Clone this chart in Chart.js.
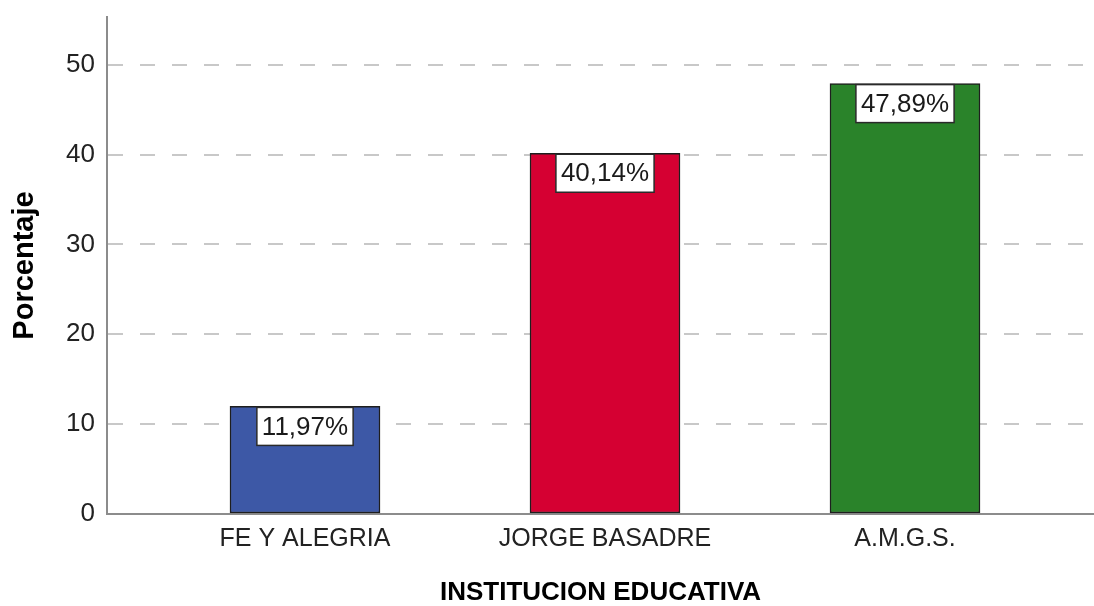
<!DOCTYPE html>
<html>
<head>
<meta charset="utf-8">
<script src="https://cdn.jsdelivr.net/npm/chart.js@4"></script>
<style>
  html, body { margin: 0; padding: 0; background: #fff; }
  #chartBox { width: 1094px; height: 606px; }
</style>
</head>
<body>
<div id="chartBox"><canvas id="barChart" width="1094" height="606"></canvas></div>
<script>
// Data
const institutions = ["FE Y ALEGRIA", "JORGE BASADRE", "A.M.G.S."];
const percentages = [11.97, 40.14, 47.89];
const barColors = ["#3d58a6", "#d50032", "#2a832a"];
const yTicks = [0, 10, 20, 30, 40, 50];

const ctx = document.getElementById("barChart").getContext("2d");
const FONT = "'Liberation Sans', Arial, sans-serif";

// Value boxes drawn at the top of each bar
const valueBoxes = {
  id: "valueBoxes",
  afterDatasetsDraw(chart) {
    const c = chart.ctx;
    const meta = chart.getDatasetMeta(0);
    meta.data.forEach((bar, i) => {
      const text = percentages[i].toFixed(2).replace(".", ",") + "%";
      c.save();
      c.font = "26px " + FONT;
      const w = c.measureText(text).width + 10;
      const h = 38;
      const x = bar.x - w / 2;
      const y = bar.y + 1;
      c.fillStyle = "#ffffff";
      c.fillRect(x, y, w, h);
      c.strokeStyle = "#2a2a2a";
      c.lineWidth = 1.5;
      c.strokeRect(x, y, w, h);
      c.fillStyle = "#1a1a1a";
      c.textAlign = "center";
      c.textBaseline = "middle";
      c.fillText(text, bar.x, y + h / 2 + 1);
      c.restore();
    });
  }
};

new Chart(ctx, {
  type: "bar",
  data: {
    datasets: [{
      data: percentages.map((v, i) => ({ x: i + 1, y: v })),
      backgroundColor: barColors,
      borderColor: "#1e1e1e",
      borderWidth: 1.5,
      borderSkipped: false,
      barThickness: 150
    }]
  },
  options: {
    responsive: false,
    animation: false,
    layout: { padding: { top: 17, right: 0, left: 0, bottom: 0 } },
    plugins: { legend: { display: false }, tooltip: { enabled: false } },
    scales: {
      x: {
        type: "linear",
        offset: false,
        min: 0.34,
        max: 3.63,
        afterFit(scale) {
          scale.height = 92;
          scale.paddingLeft = 0;
          scale.paddingRight = 0;
        },
        afterBuildTicks(scale) {
          scale.ticks = institutions.map((_, i) => ({ value: i + 1 }));
        },
        ticks: {
          callback: (v) => institutions[v - 1] || "",
          color: "#222",
          font: { family: FONT, size: 25 },
          padding: 10,
          maxRotation: 0,
          autoSkip: false
        },
        grid: { display: false, drawTicks: false },
        border: { color: "#8c8c8c", width: 2 },
        title: {
          display: true,
          text: "INSTITUCION EDUCATIVA",
          color: "#000",
          font: { family: FONT, size: 26, weight: "bold", lineHeight: 1 },
          padding: { top: 0, bottom: 0 }
        }
      },
      y: {
        min: 0,
        max: 55.3,
        afterFit(scale) {
          scale.width = 107;
          scale.paddingTop = 0;
          scale.paddingBottom = 0;
        },
        afterBuildTicks(scale) {
          scale.ticks = yTicks.map((v) => ({ value: v }));
        },
        ticks: {
          color: "#222",
          font: { family: FONT, size: 26 },
          padding: 12
        },
        grid: {
          color: "#c8c8c8",
          lineWidth: 2,
          drawTicks: false
        },
        border: { color: "#8c8c8c", width: 2, dash: [15, 17] },
        title: {
          display: true,
          text: "Porcentaje",
          color: "#000",
          font: { family: FONT, size: 29, weight: "bold", lineHeight: 1 },
          padding: { top: 10, bottom: 0 }
        }
      }
    }
  },
  plugins: [valueBoxes]
});
</script>
</body>
</html>
